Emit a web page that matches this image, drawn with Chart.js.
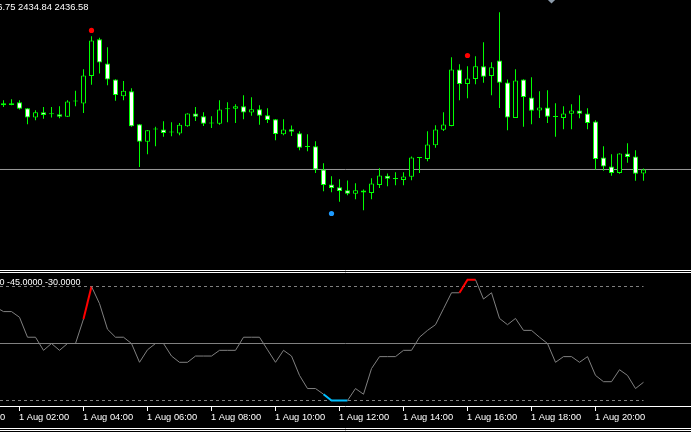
<!DOCTYPE html>
<html>
<head>
<meta charset="utf-8">
<script src="https://cdn.jsdelivr.net/npm/chart.js@4.4.1/dist/chart.umd.min.js"></script>
<style>
  html, body { margin: 0; padding: 0; background: #000; overflow: hidden; }
  #wrap { position: relative; width: 691px; height: 432px; }
  #price-box { position: absolute; left: 0; top: 0; width: 691px; height: 270px; }
  #osc-box { position: absolute; left: 0; top: 270px; width: 691px; height: 162px; }
  canvas { display: block; }
</style>
</head>
<body>
<div id="wrap">
  <div id="price-box"><canvas id="price"></canvas></div>
  <div id="osc-box"><canvas id="osc"></canvas></div>
</div>
<script>
// XAUUSD M15, 1 Aug, first bar 01:30
const firstBar = '01:30';
const barMinutes = 15;

const opens = [2446.48, 2446.52, 2446.94, 2446.01, 2444.58, 2445.40, 2445.10, 2445.09, 2444.68, 2447.05,
  2446.74, 2450.98, 2456.63, 2452.89, 2450.43, 2447.86, 2448.63, 2443.55, 2440.83, 2442.74,
  2442.74, 2442.28, 2442.12, 2443.25, 2445.20, 2444.78, 2443.66, 2443.60, 2445.86, 2445.91,
  2446.32, 2445.35, 2445.86, 2444.94, 2444.32, 2442.01, 2442.78, 2442.17, 2440.06, 2440.17,
  2436.58, 2434.28, 2433.86, 2433.40, 2432.83, 2433.35, 2432.98, 2434.21, 2435.60, 2435.15,
  2434.98, 2435.45, 2438.37, 2438.21, 2440.32, 2442.68, 2443.29, 2451.97, 2449.75, 2450.52,
  2452.48, 2450.98, 2453.35, 2449.97, 2444.52, 2450.43, 2447.66, 2445.66, 2446.12, 2444.69,
  2444.52, 2445.14, 2445.66, 2445.20, 2443.97, 2438.43, 2437.05, 2436.06, 2439.05, 2438.58,
  2435.97];
const highs = [2447.25, 2447.40, 2447.25, 2446.05, 2445.71, 2446.21, 2446.21, 2446.32, 2447.25, 2448.68,
  2452.01, 2457.09, 2456.83, 2455.40, 2450.48, 2450.21, 2449.09, 2443.58, 2442.65, 2443.14,
  2444.01, 2443.86, 2443.75, 2445.25, 2446.21, 2445.40, 2444.78, 2447.25, 2446.94, 2446.63,
  2448.01, 2447.71, 2446.48, 2446.01, 2444.35, 2444.32, 2443.35, 2442.48, 2442.01, 2440.94,
  2437.55, 2435.55, 2435.09, 2434.89, 2434.48, 2433.51, 2435.25, 2436.78, 2435.97, 2436.17,
  2436.17, 2438.58, 2438.40, 2442.48, 2443.40, 2445.40, 2453.86, 2452.78, 2452.48, 2454.01,
  2456.17, 2453.09, 2460.78, 2450.43, 2452.01, 2450.45, 2450.78, 2448.63, 2448.78, 2446.78,
  2446.32, 2446.63, 2448.01, 2446.01, 2444.17, 2440.17, 2438.94, 2439.08, 2440.63, 2439.55,
  2436.75];
const lows = [2446.21, 2446.48, 2445.81, 2443.55, 2444.17, 2444.37, 2444.58, 2444.48, 2444.66, 2446.32,
  2445.29, 2449.60, 2451.35, 2449.55, 2447.14, 2447.25, 2443.14, 2436.98, 2438.94, 2440.17,
  2441.60, 2441.71, 2441.86, 2443.14, 2444.06, 2443.29, 2442.98, 2443.45, 2443.86, 2443.75,
  2444.32, 2444.83, 2443.45, 2443.75, 2441.09, 2441.86, 2441.75, 2439.55, 2439.40, 2436.06,
  2433.25, 2433.09, 2431.60, 2432.63, 2432.01, 2430.32, 2432.01, 2433.75, 2434.01, 2434.17,
  2434.17, 2434.94, 2436.06, 2437.86, 2439.91, 2442.52, 2443.25, 2447.25, 2447.55, 2449.71,
  2449.91, 2448.01, 2446.06, 2442.63, 2444.50, 2443.14, 2443.55, 2444.52, 2443.75, 2441.60,
  2442.78, 2442.78, 2444.48, 2442.78, 2436.58, 2436.37, 2435.60, 2435.91, 2437.60, 2434.84,
  2434.84];
const closes = [2446.78, 2446.78, 2445.91, 2444.58, 2445.40, 2444.98, 2445.07, 2444.68, 2447.05, 2447.08,
  2451.05, 2456.43, 2453.05, 2450.43, 2448.06, 2448.68, 2443.25, 2440.83, 2442.63, 2442.72,
  2442.21, 2442.26, 2443.45, 2445.20, 2444.68, 2443.60, 2443.64, 2445.81, 2445.84, 2446.32,
  2445.35, 2445.86, 2444.83, 2444.21, 2442.06, 2442.74, 2442.37, 2439.91, 2440.04, 2436.58,
  2434.21, 2433.75, 2433.29, 2432.83, 2433.40, 2433.05, 2434.43, 2435.66, 2435.14, 2435.13,
  2435.51, 2438.43, 2438.35, 2440.43, 2442.74, 2443.51, 2451.97, 2449.75, 2450.58, 2452.48,
  2450.83, 2452.32, 2449.91, 2444.58, 2450.28, 2447.75, 2445.60, 2446.12, 2444.68, 2444.67,
  2445.20, 2445.66, 2445.14, 2443.75, 2438.21, 2437.05, 2436.06, 2439.05, 2438.52, 2435.91,
  2436.58];

// signal dots on the price chart (bar index, price)
const sellDots = [[11, 2457.97], [58, 2454.12]];
const buyDots = [[41, 2429.81]];
const objectMarks = [[68.5, 2462.80]];

// oscillator, first value belongs to the bar before 01:30
const oscStart = -1;
const osc = [64,
  56, 56, 46, 11, 11, -12, 0, -12, 0, 0,
  43, 100, 70, 25, 11, 11, 0, -33, -11, 0,
  0, -22, -33, -33, -22, -22, -22, -12, -12, -12,
  11, 11, 11, -11, -33, -12, -22, -56, -79, -79,
  -89, -100, -100, -100, -79, -89, -44, -23, -23, -23,
  -12, -12, 11, 23, 33, 61, 89, 89, 112, 112,
  78, 89, 44, 33, 44, 23, 23, 11, 0, -33,
  -23, -23, -33, -23, -56, -67, -67, -46, -56, -79,
  -68];
const oscLevels = [100, -100];
const oscMid = 0;
const hotRanges = [[10, 11], [57, 59]];
const coldRanges = [[40, 43]];

const timeTicks = ['1 Aug 00:00', '1 Aug 02:00', '1 Aug 04:00', '1 Aug 06:00', '1 Aug 08:00', '1 Aug 10:00',
  '1 Aug 12:00', '1 Aug 14:00', '1 Aug 16:00', '1 Aug 18:00', '1 Aug 20:00'];

const GREEN = '#00ff00';
const X_MIN = -0.4375;
const X_MAX = X_MIN + 691 / 8;
const last = closes.length - 1;

function minutesOf(hhmm) {
  let parts = hhmm.split(':');
  return Number(parts[0]) * 60 + Number(parts[1]);
}

function barIndex(label) {
  let hhmm = label.split(' ')[2];
  return (minutesOf(hhmm) - minutesOf(firstBar)) / barMinutes;
}

function inRange(ranges, i) {
  return ranges.some(r => i >= r[0] && i < r[1]);
}

function xAxis() {
  return { type: 'linear', display: false, offset: false, min: X_MIN, max: X_MAX };
}

//> price chart
let wicks = [];
let bodies = [];
closes.forEach((c, i) => {
  wicks.push({ x: i, y: [lows[i], highs[i]] });
  bodies.push({ x: i, y: [Math.min(opens[i], c), Math.max(opens[i], c)] });
});

const priceLabel = {
  id: 'priceLabel',
  afterDraw(chart) {
    const ctx = chart.ctx;
    let text = 'XAUUSD,M15  ' + [opens, highs, lows, closes].map(a => a[last].toFixed(2)).join(' ');
    ctx.save();
    ctx.fillStyle = '#ffffff';
    ctx.font = '9.4px "Liberation Sans"';
    ctx.textAlign = 'right';
    ctx.fillText(text, 88.5, 10);
    ctx.restore();
  }
};

new Chart(document.getElementById('price'), {
  type: 'bar',
  data: {
    datasets: [
      {
        label: 'body',
        data: bodies,
        order: 1,
        barThickness: 5,
        minBarLength: 1,
        borderWidth: 1,
        borderSkipped: false,
        inflateAmount: 0,
        borderColor: GREEN,
        backgroundColor: ctx => closes[ctx.dataIndex] < opens[ctx.dataIndex] ? '#ffffff' : '#000000',
        grouped: false
      },
      {
        label: 'wick',
        data: wicks,
        order: 2,
        barThickness: 1,
        borderWidth: 0,
        inflateAmount: 0,
        backgroundColor: GREEN,
        grouped: false
      },
      {
        type: 'line',
        label: 'bid',
        data: [{ x: X_MIN, y: closes[last] }, { x: X_MAX, y: closes[last] }],
        order: 3,
        borderColor: '#9a9a9a',
        borderWidth: 1,
        pointRadius: 0
      },
      {
        type: 'line',
        label: 'sell',
        data: sellDots.map(d => ({ x: d[0], y: d[1] })),
        order: 0,
        showLine: false,
        pointRadius: 2.6,
        pointBorderWidth: 0,
        pointBackgroundColor: '#ff0000'
      },
      {
        type: 'line',
        label: 'buy',
        data: buyDots.map(d => ({ x: d[0], y: d[1] })),
        order: 0,
        showLine: false,
        pointRadius: 2.6,
        pointBorderWidth: 0,
        pointBackgroundColor: '#1e9bff'
      },
      {
        type: 'line',
        label: 'mark',
        data: objectMarks.map(d => ({ x: d[0], y: d[1] })),
        order: 0,
        clip: false,
        showLine: false,
        pointStyle: 'rectRot',
        pointRadius: 4.5,
        pointBorderWidth: 0,
        pointBackgroundColor: '#8c9bab'
      }
    ]
  },
  options: {
    responsive: true,
    maintainAspectRatio: false,
    animation: false,
    events: [],
    layout: { padding: 0, autoPadding: false },
    plugins: { legend: { display: false }, tooltip: { enabled: false } },
    scales: {
      x: xAxis(),
      y: { display: false, min: 2421.1184, max: 2462.6569 }
    }
  },
  plugins: [priceLabel]
});

//> oscillator + time axis
const timeAxis = {
  id: 'timeAxis',
  afterDraw(chart) {
    const ctx = chart.ctx;
    const x = chart.scales.x;
    const w = chart.width;
    ctx.save();
    ctx.strokeStyle = '#ffffff';
    ctx.lineWidth = 1;
    [0.5, 2.5, 136.5, 158.5, 160.5].forEach(y => {
      ctx.beginPath();
      ctx.moveTo(0, y);
      ctx.lineTo(w, y);
      ctx.stroke();
    });
    ctx.fillStyle = '#ffffff';
    ctx.font = '9.3px "Liberation Sans"';
    ctx.textAlign = 'left';
    timeTicks.forEach(t => {
      let px = Math.floor(x.getPixelForValue(barIndex(t))) + 0.5;
      ctx.beginPath();
      ctx.moveTo(px, 136);
      ctx.lineTo(px, 141);
      ctx.stroke();
      ctx.fillText(t, px - 0.5, 150);
    });
    // indicator values
    ctx.textAlign = 'right';
    ctx.font = '9px "Liberation Sans"';
    ctx.fillText('(14) 0 -45.0000 -30.0000', 80.5, 14.5);
    ctx.restore();
  }
};

function oscColor(ctx) {
  let i = ctx.p0.parsed.x;
  if (inRange(hotRanges, i)) return '#ff0000';
  if (inRange(coldRanges, i)) return '#00bfff';
  return '#808080';
}

function oscWidth(ctx) {
  let i = ctx.p0.parsed.x;
  return (inRange(hotRanges, i) || inRange(coldRanges, i)) ? 2 : 1;
}

let levelSets = oscLevels.map(v => ({
  label: 'level ' + v,
  data: [{ x: X_MIN, y: v }, { x: last, y: v }],
  order: 2,
  borderColor: '#808080',
  borderWidth: 1,
  borderDash: [3, 3],
  pointRadius: 0
}));

new Chart(document.getElementById('osc'), {
  type: 'line',
  data: {
    datasets: [
      {
        label: 'osc',
        data: osc.map((v, k) => ({ x: k + oscStart, y: v })),
        order: 0,
        borderColor: '#808080',
        borderWidth: 1,
        pointRadius: 0,
        tension: 0,
        segment: { borderColor: oscColor, borderWidth: oscWidth }
      },
      {
        label: 'mid',
        data: [{ x: X_MIN, y: oscMid }, { x: X_MAX, y: oscMid }],
        order: 2,
        borderColor: '#808080',
        borderWidth: 1,
        pointRadius: 0
      }
    ].concat(levelSets)
  },
  options: {
    responsive: true,
    maintainAspectRatio: false,
    animation: false,
    events: [],
    layout: { padding: { top: 3, bottom: 27, left: 0, right: 0 }, autoPadding: false },
    plugins: { legend: { display: false }, tooltip: { enabled: false } },
    scales: {
      x: xAxis(),
      y: { display: false, min: -107.89, max: 123.68 }
    }
  },
  plugins: [timeAxis]
});
</script>
</body>
</html>
